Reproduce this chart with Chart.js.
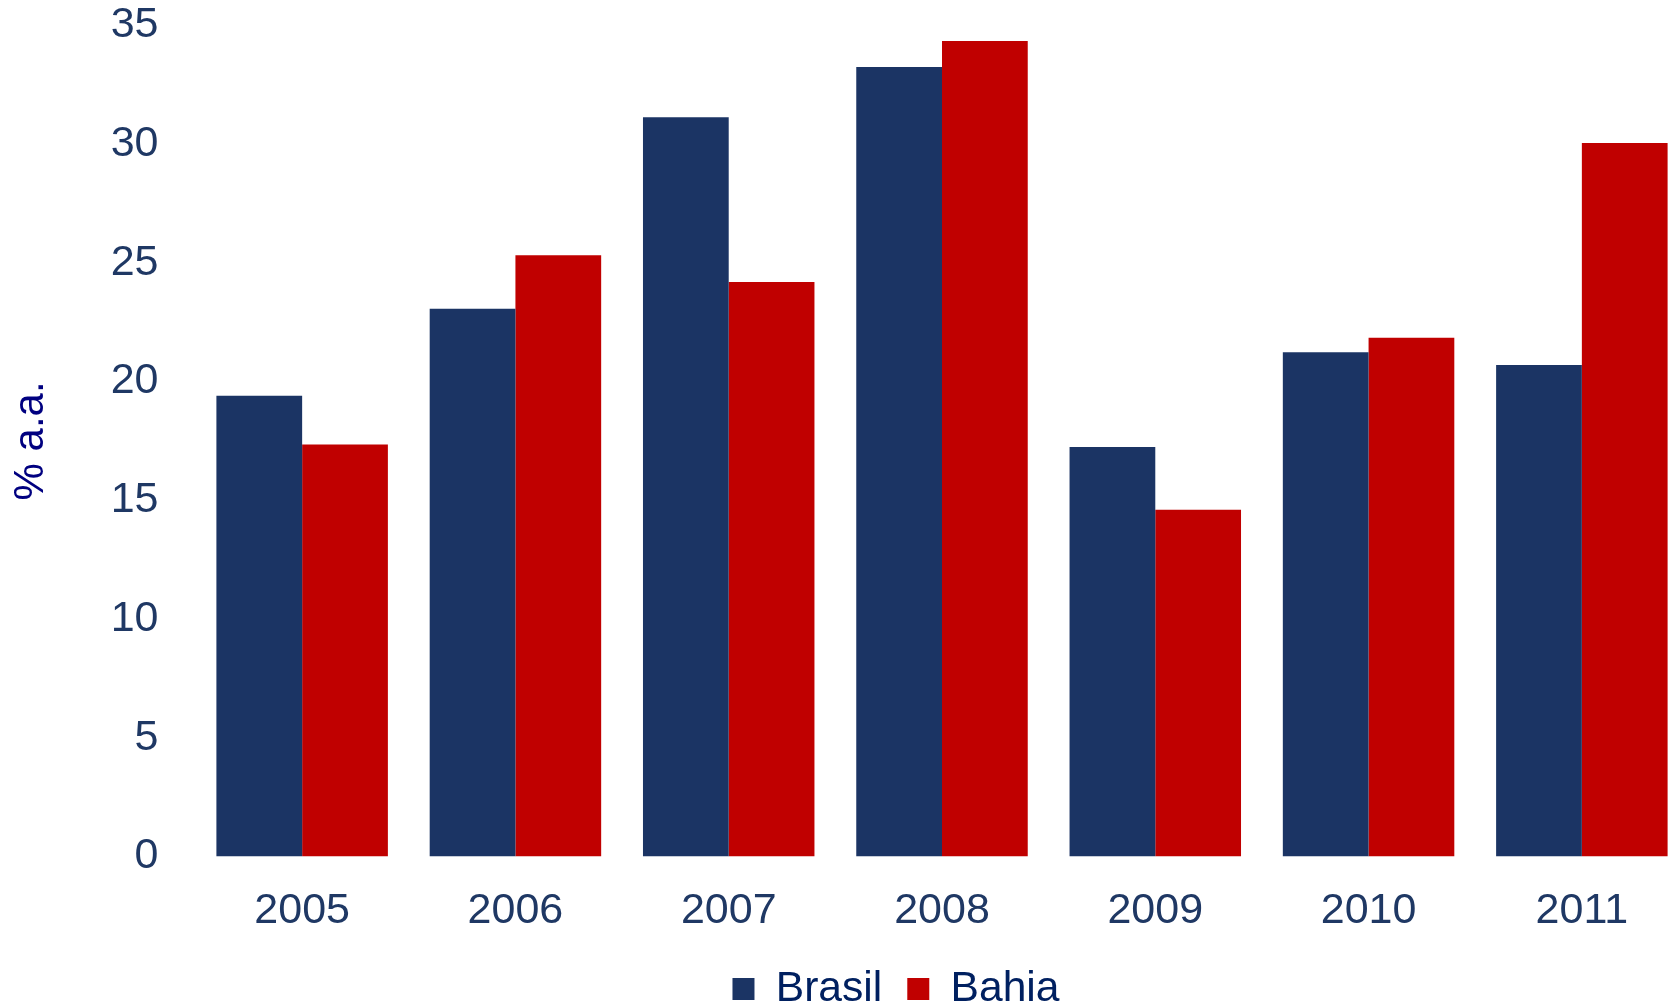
<!DOCTYPE html>
<html>
<head>
<meta charset="utf-8">
<script src="https://cdn.jsdelivr.net/npm/chart.js@4"></script>
<style>
  html, body { margin: 0; padding: 0; background: #fff; overflow: hidden; }
  #wrap { width: 1792px; height: 1008px; }
</style>
</head>
<body>
<div id="wrap"><canvas id="myChart" width="1792" height="1008"></canvas></div>
<script>
var years = ["2005", "2006", "2007", "2008", "2009", "2010", "2011"];
var brasil = [19.4, 23.07, 31.14, 33.25, 17.25, 21.24, 20.7];
var bahia = [17.35, 25.32, 24.2, 34.35, 14.6, 21.85, 30.05];
var yTicks = [0, 5, 10, 15, 20, 25, 30, 35];

var navy = "#1B3464";
var red = "#C00000";
var font = "'Liberation Sans', Arial, sans-serif";

new Chart("myChart", {
  type: "bar",
  data: {
    labels: years,
    datasets: [
      { label: "Brasil", data: brasil, backgroundColor: navy, categoryPercentage: 0.804, barPercentage: 1.0 },
      { label: "Bahia", data: bahia, backgroundColor: red, categoryPercentage: 0.804, barPercentage: 1.0 }
    ]
  },
  options: {
    responsive: false,
    animation: false,
    layout: { padding: { top: 25.5, bottom: -12.3, left: 0, right: 0 } },
    plugins: {
      tooltip: { enabled: false },
      legend: {
        position: "bottom",
        labels: {
          boxWidth: 22,
          boxHeight: 22,
          padding: 25,
          color: "#002060",
          font: { family: font, size: 42.6 }
        }
      }
    },
    scales: {
      x: {
        grid: { display: false, drawTicks: false },
        border: { display: false },
        ticks: { color: "#1F3864", padding: 29, font: { family: font, size: 43 } },
        afterFit: function (s) { s.height = 86.3; }
      },
      y: {
        min: 0,
        max: 35,
        grid: { display: false, drawTicks: false },
        border: { display: false },
        afterBuildTicks: function (s) { s.ticks = yTicks.map(function (v) { return { value: v }; }); },
        ticks: { color: "#1F3864", padding: 37, font: { family: font, size: 43 } },
        title: {
          display: true,
          text: "% a.a.",
          color: "#000080",
          padding: { top: 6, bottom: 0 },
          font: { family: font, size: 42 }
        },
        afterFit: function (s) { s.width = 195.5; s.paddingTop = 0; s.paddingBottom = 0; }
      },
      y2: {
        position: "right",
        display: true,
        grid: { display: false, drawTicks: false },
        border: { display: false },
        ticks: { display: false },
        afterFit: function (s) { s.width = 103.5; s.paddingTop = 0; s.paddingBottom = 0; }
      }
    }
  }
});
</script>
</body>
</html>
